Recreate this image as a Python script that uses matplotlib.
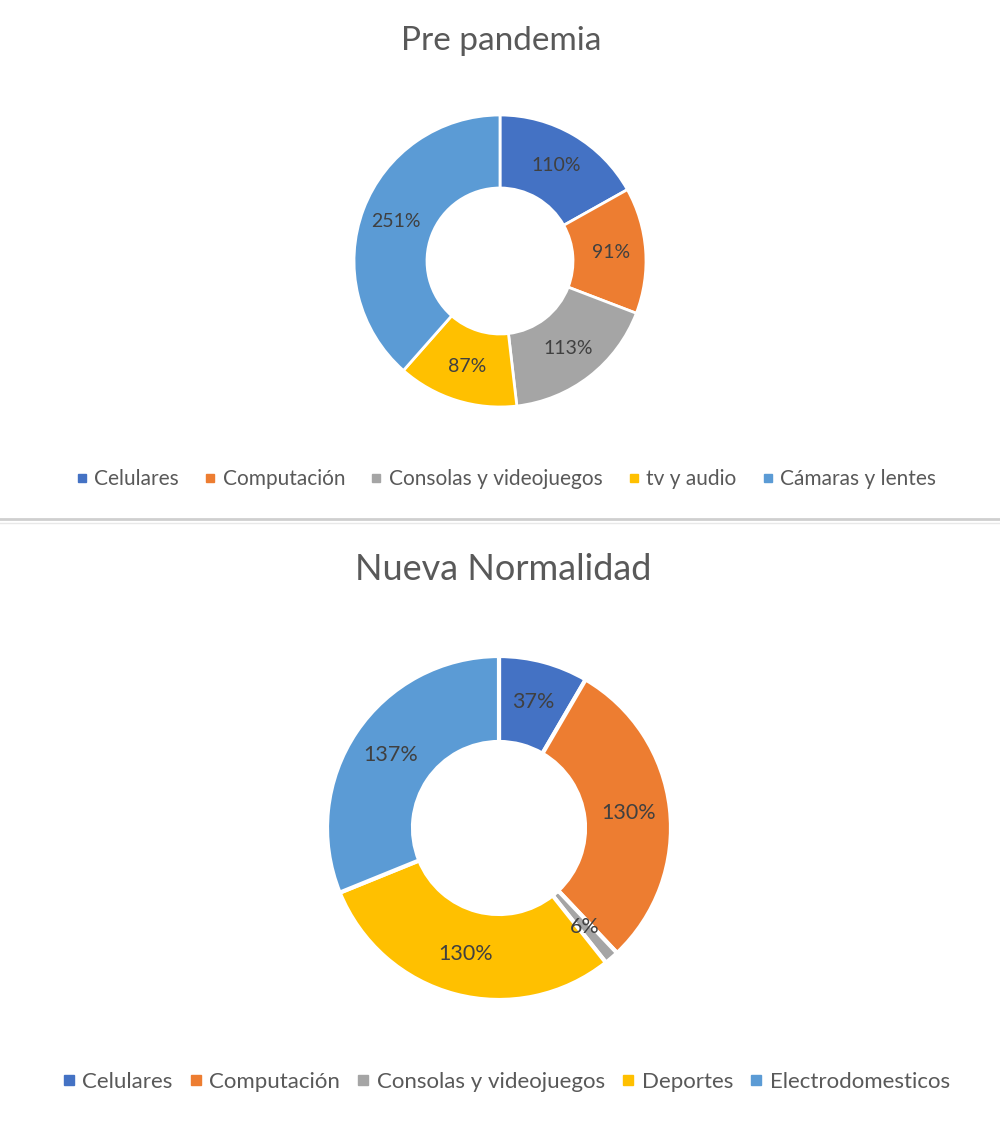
import matplotlib
matplotlib.use("Agg")
import matplotlib.pyplot as plt
from matplotlib.lines import Line2D
import numpy as np

plt.rcParams['font.family'] = ['Lato', 'DejaVu Sans']

# ---- data ----
title_top = "Pre pandemia"
cats_top = ["Celulares", "Computación", "Consolas y videojuegos", "tv y audio", "Cámaras y lentes"]
vals_top = [110, 91, 113, 87, 251]

title_bot = "Nueva Normalidad"
cats_bot = ["Celulares", "Computación", "Consolas y videojuegos", "Deportes", "Electrodomesticos"]
vals_bot = [37, 130, 6, 130, 137]

colors = ["#4472C4", "#ED7D31", "#A5A5A5", "#FFC000", "#5B9BD5"]

W, H = 1000, 1122
fig = plt.figure(figsize=(W / 100, H / 100), dpi=100)
fig.patch.set_facecolor("white")


def px_axes(cx, cy, r):
    return fig.add_axes([(cx - r) / W, (H - cy - r) / H, 2 * r / W, 2 * r / H])


def donut(ax, vals, edge_lw, fs):
    wedges, _ = ax.pie(vals, colors=colors, startangle=90, counterclock=False,
                       radius=1.0,
                       wedgeprops=dict(width=0.5, edgecolor="white", linewidth=edge_lw))
    ax.set_xlim(-1, 1)
    ax.set_ylim(-1, 1)
    ax.set_aspect("equal")
    ax.axis("off")
    for w, v in zip(wedges, vals):
        ang = np.deg2rad((w.theta1 + w.theta2) / 2)
        ax.text(0.76 * np.cos(ang), 0.76 * np.sin(ang), f"{v}%", ha="center", va="center",
                fontsize=fs, color="#404040")


ax1 = px_axes(500, 261, 146)
donut(ax1, vals_top, 2.0, 14)
ax2 = px_axes(499, 828, 172)
donut(ax2, vals_bot, 3.0, 15.5)

fig.text(501 / W, 1 - 41 / H, title_top, ha="center", va="center", fontsize=24, color="#595959")
fig.text(503 / W, 1 - 569 / H, title_bot, ha="center", va="center", fontsize=26, color="#595959")


def legend(cats, y, fs, ms, colsp):
    handles = [Line2D([], [], marker="s", linestyle="none", markersize=ms,
                      markerfacecolor=c, markeredgecolor=c) for c in colors]
    fig.legend(handles, cats, loc="center", bbox_to_anchor=(0.506, 1 - y / H), ncol=5,
               frameon=False, fontsize=fs, labelcolor="#595959", handlelength=0.6,
               handletextpad=0.3, columnspacing=colsp, borderaxespad=0)


legend(cats_top, 479, 15, 6, 1.2)
legend(cats_bot, 1082, 16, 7, 0.75)

# separator
fig.add_artist(Line2D([0, 1], [1 - 519 / H, 1 - 519 / H], color="#cfcfcf", lw=2))
fig.add_artist(Line2D([0, 1], [1 - 522.5 / H, 1 - 522.5 / H], color="#e8e8e8", lw=1))

fig.savefig("out.png", dpi=100, facecolor="white")
